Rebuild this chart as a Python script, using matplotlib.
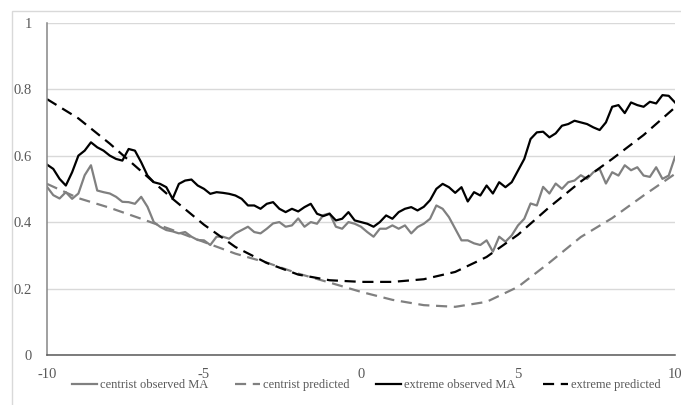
import matplotlib
matplotlib.use('Agg')
import matplotlib.pyplot as plt
from matplotlib.patches import Rectangle
import numpy as np

plt.rcParams['font.family'] = ['Liberation Serif', 'DejaVu Serif']
plt.rcParams['axes.unicode_minus'] = False

# moving averages sampled every 0.2 on the x range
x_obs = np.round(np.arange(-10, 10.001, 0.2), 1)

centrist_observed = [
    0.506, 0.481, 0.471, 0.490, 0.470, 0.486, 0.541, 0.571, 0.495, 0.490,
    0.486, 0.476, 0.461, 0.460, 0.455, 0.476, 0.446, 0.400, 0.386, 0.376,
    0.372, 0.366, 0.370, 0.356, 0.346, 0.345, 0.331, 0.356, 0.356, 0.350,
    0.366, 0.376, 0.386, 0.370, 0.366, 0.380, 0.396, 0.400, 0.386, 0.390,
    0.411, 0.386, 0.400, 0.395, 0.421, 0.426, 0.386, 0.380, 0.400, 0.395,
    0.386, 0.370, 0.356, 0.380, 0.380, 0.390, 0.380, 0.390, 0.366, 0.385,
    0.395, 0.410, 0.450, 0.440, 0.415, 0.380, 0.345, 0.345, 0.336, 0.331,
    0.345, 0.311, 0.356, 0.341, 0.360, 0.390, 0.410, 0.456, 0.450, 0.506,
    0.486, 0.516, 0.500, 0.520, 0.525, 0.541, 0.530, 0.550, 0.560, 0.516,
    0.550, 0.540, 0.571, 0.556, 0.565, 0.540, 0.536, 0.565, 0.530, 0.540,
    0.596,
]

extreme_observed = [
    0.573, 0.560, 0.530, 0.510, 0.550, 0.600, 0.615, 0.640, 0.625, 0.615,
    0.600, 0.590, 0.585, 0.620, 0.615, 0.580, 0.540, 0.520, 0.515, 0.505,
    0.470, 0.515, 0.525, 0.528, 0.510, 0.500, 0.485, 0.490, 0.488, 0.485,
    0.480, 0.470, 0.450, 0.450, 0.440, 0.455, 0.460, 0.440, 0.430, 0.440,
    0.432, 0.445, 0.455, 0.425, 0.418, 0.425, 0.405, 0.410, 0.430, 0.405,
    0.400, 0.395, 0.386, 0.400, 0.420, 0.410, 0.430, 0.440, 0.445, 0.435,
    0.446, 0.466, 0.500, 0.515, 0.505, 0.488, 0.505, 0.462, 0.490, 0.480,
    0.510, 0.486, 0.520, 0.505, 0.520, 0.555, 0.590, 0.650, 0.670, 0.672,
    0.655, 0.667, 0.690, 0.695, 0.705, 0.700, 0.695, 0.685, 0.677, 0.700,
    0.747, 0.752, 0.728, 0.760, 0.752, 0.747, 0.762, 0.757, 0.782, 0.780,
    0.760,
]

# model predictions at integer positions
x_pred = np.arange(-10, 11)
centrist_predicted = [0.515, 0.472, 0.443, 0.410, 0.376, 0.340, 0.305, 0.278, 0.245, 0.218,
                      0.190, 0.166, 0.150, 0.145, 0.160, 0.205, 0.278, 0.355, 0.412, 0.480, 0.545]
extreme_predicted = [0.770, 0.712, 0.636, 0.553, 0.470, 0.392, 0.325, 0.277, 0.242, 0.225,
                     0.220, 0.220, 0.228, 0.250, 0.295, 0.362, 0.445, 0.522, 0.590, 0.662, 0.745]

gray = '#808080'
txt = '#595959'

fig = plt.figure(figsize=(6.81, 4.05), dpi=100)
ax = fig.add_axes([47 / 681, 50 / 405, 628 / 681, 332.3 / 405])

ax.plot(x_obs, centrist_observed, color=gray, lw=1.6, label='centrist observed MA')
ax.plot(x_pred, centrist_predicted, color=gray, lw=1.6, dashes=(5, 3), label='centrist predicted')
ax.plot(x_obs, extreme_observed, color='black', lw=1.6, label='extreme observed MA')
ax.plot(x_pred, extreme_predicted, color='black', lw=1.6, dashes=(5, 3), label='extreme predicted')

ax.set_xlim(-10, 10)
ax.set_ylim(0, 1)
ax.set_xticks([-10, -5, 0, 5, 10])
ax.set_yticks([0, 0.2, 0.4, 0.6, 0.8, 1])
ax.set_yticklabels(['0', '0.2', '0.4', '0.6', '0.8', '1'])
ax.tick_params(length=0, labelsize=10.5, labelcolor=txt)
ax.tick_params(axis='y', pad=11)
ax.tick_params(axis='x', pad=9)
ax.grid(axis='y', color='#d9d9d9', lw=1)
ax.set_axisbelow(True)
for s in ['top', 'right']:
    ax.spines[s].set_visible(False)
ax.spines['left'].set_color('#868686')
ax.spines['bottom'].set_color('#595959')
ax.spines['left'].set_linewidth(1.1)
ax.spines['bottom'].set_linewidth(1.1)

fig.legend(loc='center', bbox_to_anchor=(366 / 681, 1 - 385 / 405), ncol=4, frameon=False,
           fontsize=9, labelcolor=txt, handlelength=2.0, handletextpad=0.25,
           columnspacing=2.15, borderpad=0)

# chart area border
fig.patches.append(Rectangle((12 / 681, -0.1), 1.2, (405 - 11) / 405 + 0.1, fill=False,
                             edgecolor='#d9d9d9', lw=1, transform=fig.transFigure))

fig.savefig('out.png', dpi=100)
